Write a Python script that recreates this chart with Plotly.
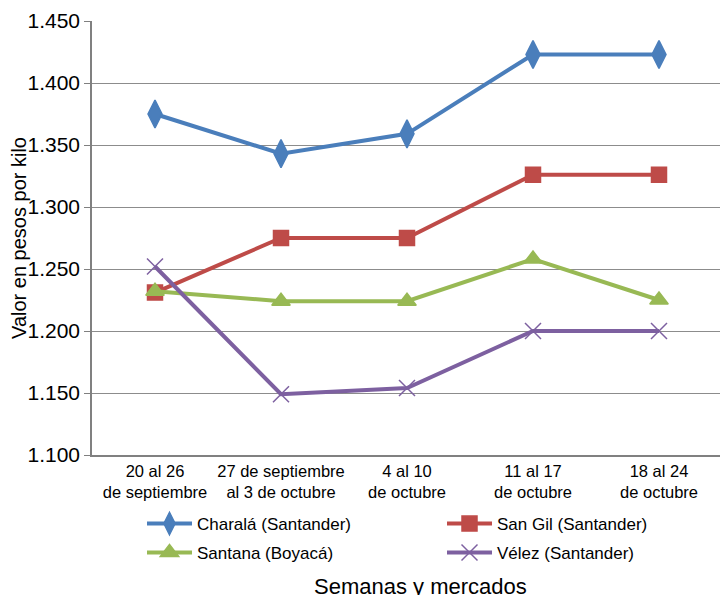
import plotly.graph_objects as go

categories = ["20 al 26<br>de septiembre", "27 de septiembre<br>al 3 de octubre",
              "4 al 10<br>de octubre", "11 al 17<br>de octubre", "18 al 24<br>de octubre"]
charala = [1375, 1343, 1359, 1423, 1423]
san_gil = [1231, 1275, 1275, 1326, 1326]
santana = [1232, 1224, 1224, 1258, 1225]
velez = [1252, 1149, 1154, 1200, 1200]
y_ticks = [1100, 1150, 1200, 1250, 1300, 1350, 1400, 1450]

series = [
    ("Charalá (Santander)", charala, "#4A7EBB", "diamond-tall", 20, "legend"),
    ("San Gil (Santander)", san_gil, "#BE4B48", "square", 15, "legend"),
    ("Santana (Boyacá)", santana, "#98B954", "triangle-up", 16, "legend2"),
    ("Vélez (Santander)", velez, "#7D60A0", "x-thin", 16, "legend2"),
]

fig = go.Figure()
for name, vals, color, sym, size, lg in series:
    fig.add_trace(go.Scatter(
        x=categories, y=vals, name=name, mode="lines+markers",
        line=dict(color=color, width=4),
        marker=dict(symbol=sym, size=size, color=color,
                    line=dict(color=color, width=1.5)),
        legend=lg,
    ))

# page body adds an 8px offset; figure is sized to fill the rest of the window
leg_common = dict(orientation="h", x=(142 - 92) / 630, xanchor="left", yanchor="middle",
                  entrywidth=240, font=dict(size=17), itemwidth=45,
                  bgcolor="rgba(0,0,0,0)")
fig.update_layout(
    width=720, height=587,
    margin=dict(l=84, r=6, t=13, b=140, autoexpand=False),
    paper_bgcolor="white", plot_bgcolor="white",
    separators=",.",
    font=dict(family="Liberation Sans, Arial, sans-serif", color="#000000"),
    showlegend=True,
    legend=dict(leg_common, y=-(524 - 455) / 434),
    legend2=dict(leg_common, y=-(553 - 455) / 434),
    annotations=[dict(text="Semanas y mercados", x=(420 - 92) / 630, y=-(572 - 455) / 434,
                      xref="paper", yref="paper",
                      xanchor="center", yanchor="top", showarrow=False,
                      font=dict(size=22))],
)
fig.update_xaxes(
    type="category", range=[-0.5, 4.5], showline=True, linecolor="#808080", linewidth=1.5,
    showgrid=False, ticks="", tickfont=dict(size=16.5), automargin=False,
)
fig.update_yaxes(
    range=[1100, 1450], tickvals=y_ticks, tickformat=",d",
    showline=True, linecolor="#808080", linewidth=1.5,
    showgrid=True, gridcolor="#8C8C8C", gridwidth=1.2,
    ticks="outside", ticklen=6, tickcolor="#808080",
    tickfont=dict(size=21), automargin=False,
    title=dict(text="Valor en pesos por kilo", font=dict(size=20), standoff=6),
)

fig.write_html("out.html")
